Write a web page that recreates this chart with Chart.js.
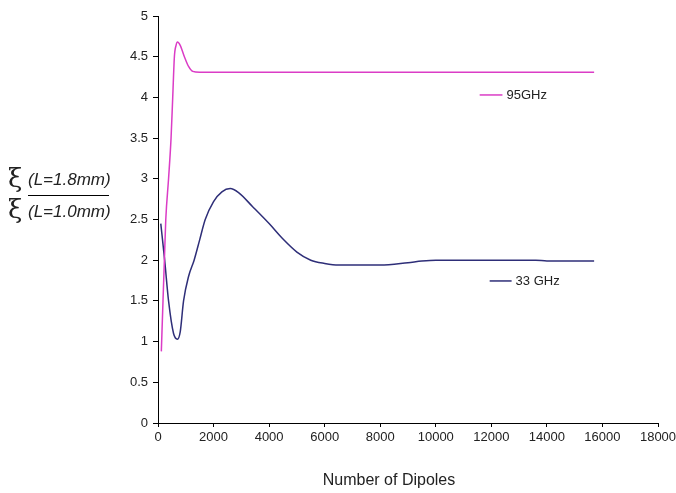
<!DOCTYPE html>
<html>
<head>
<meta charset="utf-8">
<script src="https://cdn.jsdelivr.net/npm/chart.js@4"></script>
<style>
  html, body { margin: 0; padding: 0; background: #fff; }
  #wrap { width: 676px; height: 493px; }
</style>
</head>
<body>
<div id="wrap"><canvas id="chart" width="676" height="493"></canvas></div>
<script>
// 95 GHz series
const x95 = [120, 180, 230, 280, 380, 470, 530, 590, 650, 700, 800, 950, 1100, 1250, 1500, 2000, 4000, 8000, 12000, 15700];
const y95 = [0.88, 1.5, 2.0, 2.5, 3.0, 3.5, 4.0, 4.5, 4.64, 4.68, 4.64, 4.5, 4.38, 4.32, 4.31, 4.31, 4.31, 4.31, 4.31, 4.31];

// 33 GHz series
const x33 = [100, 240, 380, 560, 700, 800, 920, 1100, 1300, 1500, 1700, 2000, 2300, 2600, 2900, 3400, 4000, 4500, 5000, 5500, 6000, 6500, 7000, 8000, 9000, 9500, 10000, 12000, 13600, 14000, 15700];
const y33 = [2.45, 2.0, 1.5, 1.1, 1.03, 1.12, 1.5, 1.8, 2.0, 2.25, 2.5, 2.72, 2.84, 2.88, 2.83, 2.66, 2.45, 2.26, 2.1, 2.0, 1.96, 1.94, 1.94, 1.94, 1.97, 1.99, 2.0, 2.0, 2.0, 1.99, 1.99];

const seriesNames = ['95GHz', '33 GHz'];
const xTitle = 'Number of Dipoles';

const COLORS = {
    magenta: '#db3cc6',
    navy: '#2e2e78',
    text: '#222'
};

const FONT = '"Liberation Sans", Arial, sans-serif';

function toPoints(xs, ys) {
    return xs.map((x, i) => ({ x: x, y: ys[i] }));
}

// Excel-style labels drawn inside the plot plus the fraction-shaped y title
const annotations = {
    id: 'annotations',
    afterDraw(chart) {
        const ctx = chart.ctx;
        const xs = chart.scales.x;
        const ys = chart.scales.y;
        ctx.save();
        ctx.font = '13px ' + FONT;
        ctx.textBaseline = 'middle';
        ctx.fillStyle = COLORS.text;

        // in-plot series labels
        const labels = [
            { name: seriesNames[0], color: COLORS.magenta, x0: 11580, x1: 12400, y: 4.03 },
            { name: seriesNames[1], color: COLORS.navy, x0: 11940, x1: 12730, y: 1.745 }
        ];
        labels.forEach(l => {
            const py = ys.getPixelForValue(l.y);
            const px0 = xs.getPixelForValue(l.x0);
            const px1 = xs.getPixelForValue(l.x1);
            ctx.strokeStyle = l.color;
            ctx.lineWidth = 1.5;
            ctx.beginPath();
            ctx.moveTo(px0, py);
            ctx.lineTo(px1, py);
            ctx.stroke();
            ctx.fillText(l.name, px1 + 4, py);
        });

        // x title
        ctx.textAlign = 'center';
        ctx.font = '16px ' + FONT;
        ctx.fillText(xTitle, 389, 481);

        // y title: xi(L=1.8mm) / xi(L=1.0mm)
        ctx.textAlign = 'left';
        ctx.font = '26px "DejaVu Serif", serif';
        ctx.fillText('\u03BE', 8, 180);
        ctx.fillText('\u03BE', 8, 211);
        ctx.font = 'italic 17px ' + FONT;
        ctx.fillText('(L=1.8mm)', 28, 180);
        ctx.fillText('(L=1.0mm)', 28, 212);
        ctx.strokeStyle = '#000';
        ctx.lineWidth = 1;
        ctx.beginPath();
        ctx.moveTo(28, 195.5);
        ctx.lineTo(109, 195.5);
        ctx.stroke();
        ctx.restore();
    }
};

const lineStyle = {
    borderWidth: 1.5,
    pointRadius: 0,
    fill: false,
    cubicInterpolationMode: 'monotone'
};

new Chart(document.getElementById('chart').getContext('2d'), {
    type: 'line',
    data: {
        datasets: [
            Object.assign({
                label: seriesNames[0],
                data: toPoints(x95, y95),
                borderColor: COLORS.magenta
            }, lineStyle),
            Object.assign({
                label: seriesNames[1],
                data: toPoints(x33, y33),
                borderColor: COLORS.navy
            }, lineStyle)
        ]
    },
    options: {
        responsive: false,
        animation: false,
        layout: {
            padding: { left: 118, right: 18, top: 16, bottom: 0 }
        },
        plugins: {
            legend: { display: false },
            tooltip: { enabled: false }
        },
        scales: {
            x: {
                type: 'linear',
                min: 0,
                max: 18000,
                afterFit: function(scale) {
                    scale.height = 70;
                    // let the last label hang into the right margin
                    scale.paddingRight = 0;
                },
                ticks: {
                    stepSize: 2000,
                    maxRotation: 0,
                    padding: 3,
                    color: COLORS.text,
                    font: { family: FONT, size: 13 },
                    callback: function(value) { return String(value); }
                },
                grid: {
                    drawOnChartArea: false,
                    tickLength: 4,
                    color: '#000'
                },
                border: { color: '#000', width: 1 }
            },
            y: {
                min: 0,
                max: 5,
                afterFit: function(scale) { scale.width = 40; },
                ticks: {
                    stepSize: 0.5,
                    padding: 5,
                    color: COLORS.text,
                    font: { family: FONT, size: 13 },
                    callback: function(value) { return String(value); }
                },
                grid: {
                    drawOnChartArea: false,
                    tickLength: 5,
                    color: '#000'
                },
                border: { color: '#000', width: 1 }
            }
        }
    },
    plugins: [annotations]
});
</script>
</body>
</html>
